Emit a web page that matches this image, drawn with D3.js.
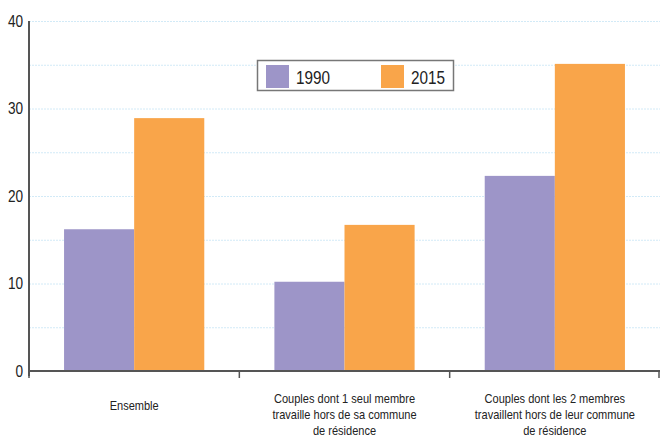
<!DOCTYPE html>
<html>
<head>
<meta charset="utf-8">
<script src="https://cdn.jsdelivr.net/npm/d3@7"></script>
<style>
  body { margin: 0; background: #fff; }
  text { font-family: "Liberation Sans", Arial, sans-serif; fill: #222; }
</style>
</head>
<body>
<script>
var categories = [
  ["Ensemble"],
  ["Couples dont 1 seul membre", "travaille hors de sa commune", "de résidence"],
  ["Couples dont les 2 membres", "travaillent hors de leur commune", "de résidence"]
];
var years = ["1990", "2015"];
var values1990 = [16.2, 10.2, 22.3];
var values2015 = [28.9, 16.7, 35.1];
var yTicks = [0, 10, 20, 30, 40];
var colors = ["#9d95c8", "#f9a54a"];

var width = 661, height = 439;
var mLeft = 29, mRight = 660, mTop = 21, mBottom = 371;
var narrow = 0.85; // the original uses a condensed face

var svg = d3.select("body").append("svg")
  .attr("width", width)
  .attr("height", height);

var x0 = d3.scaleBand()
  .domain(d3.range(categories.length))
  .range([mLeft, mRight])
  .padding(0);

var x1 = d3.scaleBand()
  .domain(years)
  .range([0, x0.bandwidth()])
  .paddingInner(0)
  .paddingOuter(0.5);

var y = d3.scaleLinear()
  .domain([0, 40])
  .range([mBottom, mTop]);

// gridlines every 5
svg.append("g").selectAll("line")
  .data(d3.range(5, 41, 5))
  .enter().append("line")
  .attr("x1", mLeft)
  .attr("x2", mRight)
  .attr("y1", function (d) { return y(d) + 0.5; })
  .attr("y2", function (d) { return y(d) + 0.5; })
  .attr("stroke", "#d2eaf7")
  .attr("stroke-width", 1)
  .attr("stroke-dasharray", "2,1");

// bars
var groups = svg.append("g").selectAll("g")
  .data(categories.map(function (c, i) { return [values1990[i], values2015[i]]; }))
  .enter().append("g")
  .attr("transform", function (d, i) { return "translate(" + x0(i) + ",0)"; });

groups.selectAll("rect")
  .data(function (d) { return d.map(function (v, j) { return { year: years[j], value: v, j: j }; }); })
  .enter().append("rect")
  .attr("x", function (d) { return x1(d.year); })
  .attr("width", x1.bandwidth())
  .attr("y", function (d) { return y(d.value); })
  .attr("height", function (d) { return y(0) - y(d.value); })
  .attr("fill", function (d) { return colors[d.j]; });

// y axis
svg.append("line")
  .attr("x1", mLeft).attr("x2", mLeft)
  .attr("y1", mTop).attr("y2", mBottom + 5)
  .attr("stroke", "#555")
  .attr("stroke-width", 2);

svg.append("g").selectAll("g")
  .data(yTicks)
  .enter().append("g")
  .attr("transform", function (d) { return "translate(" + (mLeft - 6) + "," + (y(d) + 5.5) + ") scale(" + narrow + ",1)"; })
  .append("text")
  .attr("text-anchor", "end")
  .attr("font-size", 16)
  .text(function (d) { return d; });

// x axis
svg.append("line")
  .attr("x1", mLeft - 1).attr("x2", mRight)
  .attr("y1", mBottom).attr("y2", mBottom)
  .attr("stroke", "#555")
  .attr("stroke-width", 2);

svg.append("g").selectAll("line")
  .data(d3.range(categories.length + 1))
  .enter().append("line")
  .attr("x1", function (d) { return d < categories.length ? x0(d) : mRight - 1; })
  .attr("x2", function (d) { return d < categories.length ? x0(d) : mRight - 1; })
  .attr("y1", mBottom)
  .attr("y2", mBottom + 7)
  .attr("stroke", "#555")
  .attr("stroke-width", 1.5);

// category labels
var labels = svg.append("g").selectAll("g")
  .data(categories)
  .enter().append("g")
  .attr("transform", function (d, i) {
    return "translate(" + (x0(i) + x0.bandwidth() / 2) + "," + (d.length === 1 ? 409.5 : 402.5) + ") scale(" + narrow + ",1.05)";
  })
  .append("text")
  .attr("text-anchor", "middle")
  .attr("font-size", 13);

labels.selectAll("tspan")
  .data(function (d) { return d; })
  .enter().append("tspan")
  .attr("x", 0)
  .attr("dy", function (d, i) { return i === 0 ? 0 : 15.3; })
  .text(function (d) { return d; });

// legend
var legend = svg.append("g");
legend.append("rect")
  .attr("x", 257.5).attr("y", 60.5)
  .attr("width", 196).attr("height", 30)
  .attr("fill", "#fff")
  .attr("stroke", "#777")
  .attr("stroke-width", 1.5);

var legendX = [266, 381];
legend.selectAll("rect.swatch")
  .data(years)
  .enter().append("rect")
  .attr("class", "swatch")
  .attr("x", function (d, i) { return legendX[i]; })
  .attr("y", 65)
  .attr("width", 23)
  .attr("height", 23)
  .attr("fill", function (d, i) { return colors[i]; });

legend.selectAll("g.lbl")
  .data(years)
  .enter().append("g")
  .attr("class", "lbl")
  .attr("transform", function (d, i) { return "translate(" + (legendX[i] + 30) + ",83.5) scale(" + narrow + ",1)"; })
  .append("text")
  .attr("font-size", 18)
  .text(function (d) { return d; });
</script>
</body>
</html>
